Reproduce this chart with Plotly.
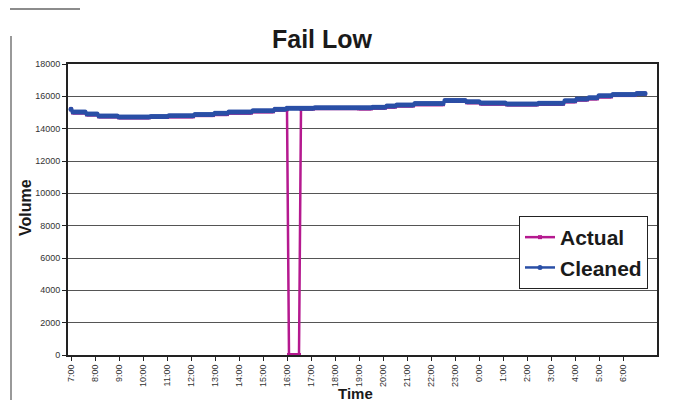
import plotly.graph_objects as go

# Time axis: hours since 7:00, 5-minute readings, 7:00 .. 6:55
tick_labels = ["7:00", "8:00", "9:00", "10:00", "11:00", "12:00", "13:00", "14:00",
               "15:00", "16:00", "17:00", "18:00", "19:00", "20:00", "21:00", "22:00",
               "23:00", "0:00", "1:00", "2:00", "3:00", "4:00", "5:00", "6:00"]
tick_pos = list(range(24))

# Cleaned volume, one row of 12 readings (5-min) per hour
cleaned = [
    15200, 15030, 15030, 15030, 15030, 15030, 15030, 15030, 14900, 14900, 14900, 14900,  # 7
    14900, 14900, 14780, 14780, 14780, 14780, 14780, 14780, 14780, 14780, 14780, 14780,  # 8
    14720, 14720, 14720, 14720, 14720, 14720, 14720, 14720, 14720, 14720, 14720, 14720,  # 9
    14720, 14720, 14720, 14720, 14750, 14750, 14750, 14750, 14750, 14750, 14750, 14750,  # 10
    14750, 14800, 14800, 14800, 14800, 14800, 14800, 14800, 14800, 14800, 14800, 14800,  # 11
    14800, 14800, 14880, 14880, 14880, 14880, 14880, 14880, 14880, 14880, 14880, 14880,  # 12
    14950, 14950, 14950, 14950, 14950, 14950, 14950, 15030, 15030, 15030, 15030, 15030,  # 13
    15030, 15030, 15030, 15030, 15030, 15030, 15030, 15110, 15110, 15110, 15110, 15110,  # 14
    15110, 15110, 15110, 15110, 15110, 15110, 15200, 15200, 15200, 15200, 15200, 15200,  # 15
    15260, 15260, 15260, 15260, 15260, 15260, 15260, 15260, 15260, 15260, 15260, 15260,  # 16
    15260, 15260, 15290, 15290, 15290, 15290, 15290, 15290, 15290, 15290, 15290, 15290,  # 17
    15290, 15290, 15290, 15290, 15290, 15290, 15290, 15290, 15290, 15290, 15290, 15290,  # 18
    15290, 15290, 15290, 15290, 15290, 15290, 15290, 15330, 15330, 15330, 15330, 15330,  # 19
    15330, 15330, 15400, 15400, 15400, 15400, 15400, 15470, 15470, 15470, 15470, 15470,  # 20
    15470, 15470, 15470, 15470, 15550, 15550, 15550, 15550, 15550, 15550, 15550, 15550,  # 21
    15550, 15550, 15550, 15550, 15550, 15550, 15550, 15750, 15750, 15750, 15750, 15750,  # 22
    15750, 15750, 15750, 15750, 15750, 15750, 15660, 15660, 15660, 15660, 15660, 15660,  # 23
    15660, 15580, 15580, 15580, 15580, 15580, 15580, 15580, 15580, 15580, 15580, 15580,  # 0
    15580, 15580, 15530, 15530, 15530, 15530, 15530, 15530, 15530, 15530, 15530, 15530,  # 1
    15530, 15530, 15530, 15530, 15530, 15530, 15570, 15570, 15570, 15570, 15570, 15570,  # 2
    15570, 15570, 15570, 15570, 15570, 15570, 15570, 15730, 15730, 15730, 15730, 15730,  # 3
    15730, 15840, 15840, 15840, 15840, 15840, 15840, 15910, 15910, 15910, 15910, 15910,  # 4
    16030, 16030, 16030, 16030, 16030, 16030, 16030, 16110, 16110, 16110, 16110, 16110,  # 5
    16110, 16110, 16110, 16110, 16110, 16110, 16110, 16180, 16180, 16180, 16180, 16180,  # 6
]

# Actual volume (detector failed low 16:05 - 16:30)
actual = [
    15200, 15000, 15000, 15000, 15000, 15000, 15000, 15000, 14880, 14880, 14880, 14880,  # 7
    14880, 14880, 14760, 14760, 14760, 14760, 14760, 14760, 14760, 14760, 14760, 14760,  # 8
    14700, 14700, 14700, 14700, 14700, 14700, 14700, 14700, 14700, 14700, 14700, 14700,  # 9
    14700, 14700, 14700, 14700, 14720, 14720, 14720, 14720, 14720, 14720, 14720, 14720,  # 10
    14720, 14760, 14760, 14760, 14760, 14760, 14760, 14760, 14760, 14760, 14760, 14760,  # 11
    14760, 14760, 14840, 14840, 14840, 14840, 14840, 14840, 14840, 14840, 14840, 14840,  # 12
    14900, 14900, 14900, 14900, 14900, 14900, 14900, 14990, 14990, 14990, 14990, 14990,  # 13
    14990, 14990, 14990, 14990, 14990, 14990, 14990, 15070, 15070, 15070, 15070, 15070,  # 14
    15070, 15070, 15070, 15070, 15070, 15070, 15180, 15180, 15180, 15180, 15180, 15180,  # 15
    15200, 0, 0, 0, 0, 0, 0, 15240, 15240, 15240, 15240, 15240,  # 16
    15240, 15240, 15270, 15270, 15270, 15270, 15270, 15270, 15270, 15270, 15270, 15270,  # 17
    15270, 15270, 15270, 15270, 15270, 15270, 15270, 15270, 15270, 15270, 15270, 15270,  # 18
    15250, 15250, 15250, 15250, 15250, 15250, 15250, 15300, 15300, 15300, 15300, 15300,  # 19
    15300, 15300, 15360, 15360, 15360, 15360, 15360, 15430, 15430, 15430, 15430, 15430,  # 20
    15430, 15430, 15430, 15430, 15510, 15510, 15510, 15510, 15510, 15510, 15510, 15510,  # 21
    15510, 15510, 15510, 15510, 15510, 15510, 15510, 15720, 15720, 15720, 15720, 15720,  # 22
    15720, 15720, 15720, 15720, 15720, 15720, 15630, 15630, 15630, 15630, 15630, 15630,  # 23
    15630, 15550, 15550, 15550, 15550, 15550, 15550, 15550, 15550, 15550, 15550, 15550,  # 0
    15550, 15550, 15500, 15500, 15500, 15500, 15500, 15500, 15500, 15500, 15500, 15500,  # 1
    15500, 15500, 15500, 15500, 15500, 15500, 15540, 15540, 15540, 15540, 15540, 15540,  # 2
    15540, 15540, 15540, 15540, 15540, 15540, 15540, 15690, 15690, 15690, 15690, 15690,  # 3
    15690, 15800, 15800, 15800, 15800, 15800, 15800, 15870, 15870, 15870, 15870, 15870,  # 4
    15990, 15990, 15990, 15990, 15990, 15990, 15990, 16080, 16080, 16080, 16080, 16080,  # 5
    16080, 16080, 16080, 16080, 16080, 16080, 16080, 16160, 16160, 16160, 16160, 16160,  # 6
]

hours = [i / 12 for i in range(len(cleaned))]

W, H = 674, 402
L, R, T, B = 68, 17, 64, 47
PW, PH = W - L - R, H - T - B

def px(x):
    return (x - L) / PW

def py(y):
    return (H - B - y) / PH

fig = go.Figure()
fig.add_trace(go.Scatter(
    x=hours, y=actual, name="<b>Actual</b>", mode="lines+markers",
    line=dict(color="#B5198F", width=2.5),
    marker=dict(symbol="square", size=4, color="#B5198F"),
))
fig.add_trace(go.Scatter(
    x=hours, y=cleaned, name="<b>Cleaned</b>", mode="lines+markers",
    line=dict(color="#2A4FA6", width=2.5),
    marker=dict(symbol="circle", size=5, color="#2A4FA6"),
))

font_family = "Liberation Sans, Arial, sans-serif"

fig.update_layout(
    width=W, height=H,
    margin=dict(l=L, r=R, t=T, b=B),
    paper_bgcolor="white", plot_bgcolor="white",
    font=dict(family=font_family, color="#222"),
    title=dict(text="<b>Fail Low</b>", x=322 / W, xanchor="center",
               y=1 - 39 / H, yanchor="middle",
               font=dict(size=25, color="#1a1a1a", family=font_family)),
    showlegend=True,
    legend=dict(x=px(519), y=py(216), xanchor="left", yanchor="top",
                bgcolor="white", bordercolor="#222", borderwidth=1,
                font=dict(size=21, color="#1a1a1a", family=font_family),
                itemwidth=30, tracegroupgap=2),
)

fig.update_xaxes(
    range=[(L - 71) / 24, (W - R - 71) / 24],
    tickmode="array", tickvals=tick_pos, ticktext=tick_labels,
    tickangle=-90, tickfont=dict(size=9, color="#333"),
    ticks="outside", ticklen=4, tickcolor="#222",
    showgrid=False, zeroline=False,
    showline=True, linecolor="#222", linewidth=2, mirror=True,
)
fig.update_yaxes(
    range=[0, 18000], tickmode="linear", tick0=0, dtick=2000, tickformat="d",
    tickfont=dict(size=9, color="#333"),
    ticks="outside", ticklen=4, tickcolor="#222",
    showgrid=True, gridcolor="#555", gridwidth=1,
    zeroline=False,
    showline=True, linecolor="#222", linewidth=2, mirror=True,
)

# axis titles
fig.add_annotation(text="<b>Volume</b>", xref="paper", yref="paper",
                   x=px(25), y=py(208), xanchor="center", yanchor="middle",
                   textangle=-90, showarrow=False,
                   font=dict(size=16, color="#1a1a1a", family=font_family))
fig.add_annotation(text="<b>Time</b>", xref="paper", yref="paper",
                   x=px(355), y=py(393), xanchor="center", yanchor="middle",
                   showarrow=False,
                   font=dict(size=15, color="#1a1a1a", family=font_family))

# scan edge artefacts
fig.add_shape(type="line", xref="paper", yref="paper",
              x0=px(10), x1=px(80), y0=py(9), y1=py(9),
              line=dict(color="#666", width=1.5))
fig.add_shape(type="line", xref="paper", yref="paper",
              x0=px(11), x1=px(11), y0=py(36), y1=py(400),
              line=dict(color="#777", width=1.5))

fig.write_html("out.html", config={"displayModeBar": False},
               post_script="document.body.style.margin='0';document.body.style.padding='0';")
